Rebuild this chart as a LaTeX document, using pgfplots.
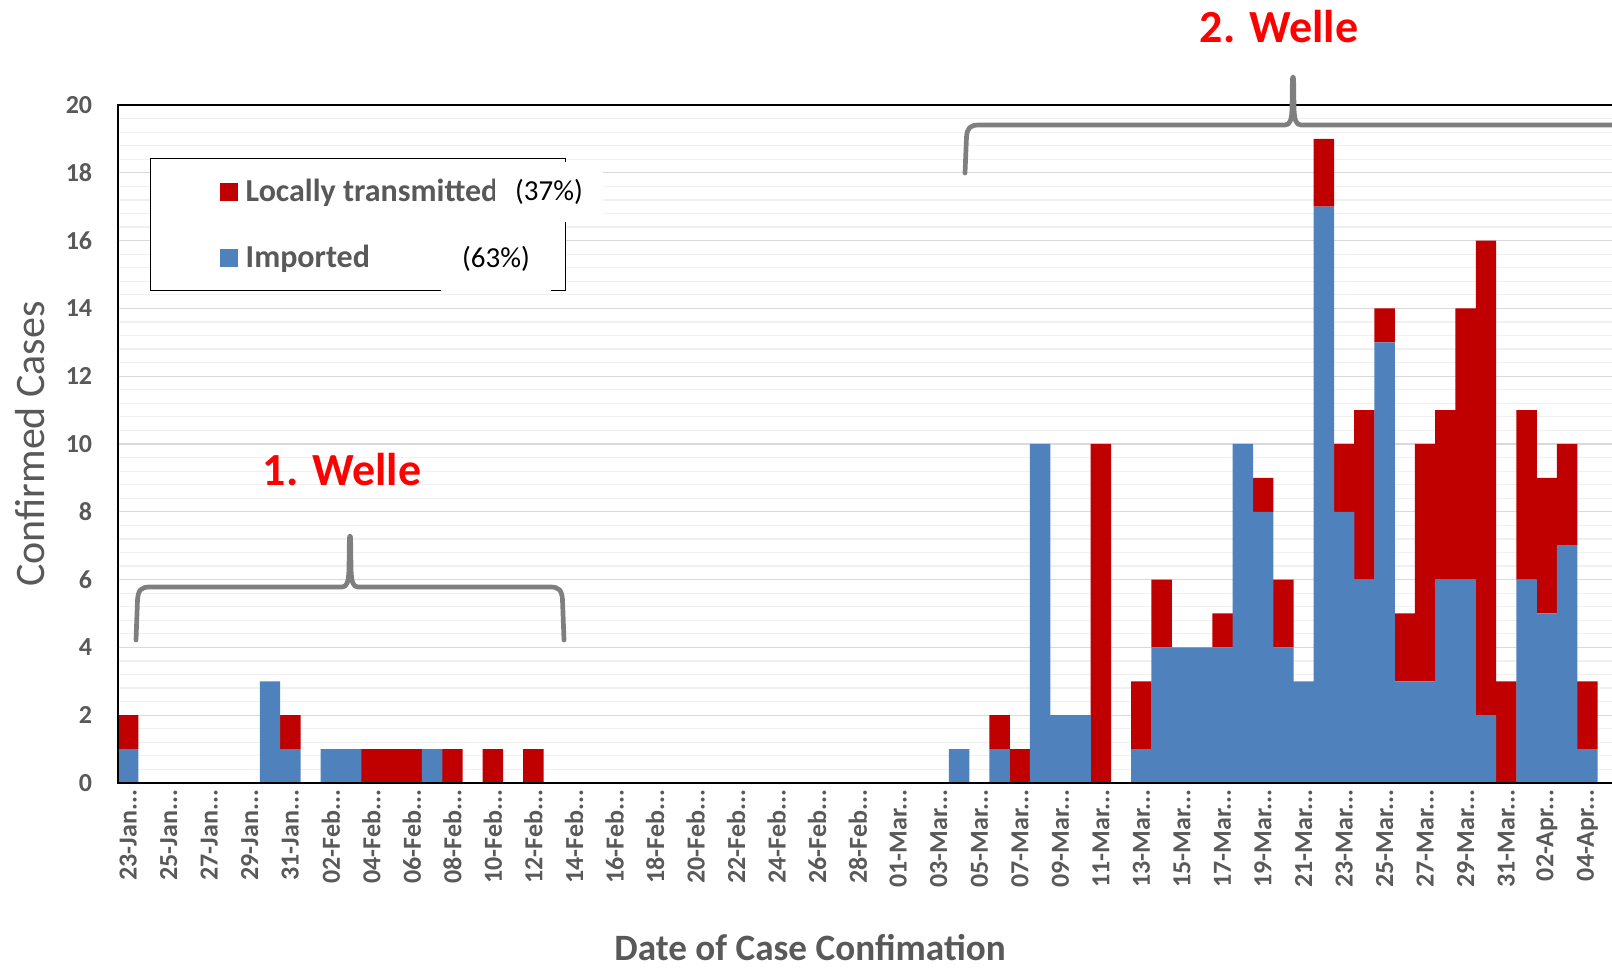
\documentclass[border=0pt]{standalone}
\usepackage{fontspec}
\setmainfont{Carlito}
\usepackage{pgfplots}
\usepackage{pgfplotstable}
\pgfplotsset{compat=1.18}
\definecolor{locred}{HTML}{C00000}
\definecolor{impblue}{HTML}{4F81BD}
\definecolor{txtgray}{HTML}{595959}
\definecolor{gridmaj}{HTML}{D9D9D9}
\definecolor{gridmin}{HTML}{F0F0F0}
\definecolor{bracegray}{HTML}{7F7F7F}
\definecolor{wellered}{HTML}{FF0000}
\newcommand{\dt}{...}
\pgfplotsset{
  /pgfplots/layers/gridbelow/.define layer set={axis background,axis grid,main,axis ticks,axis lines,axis tick labels,axis descriptions,axis foreground}{/pgfplots/layers/standard},
}
\pgfplotstableread{
x imp loc
0 1 1
1 0 0
2 0 0
3 0 0
4 0 0
5 0 0
6 0 0
7 3 0
8 1 1
9 0 0
10 1 0
11 1 0
12 0 1
13 0 1
14 0 1
15 1 0
16 0 1
17 0 0
18 0 1
19 0 0
20 0 1
21 0 0
22 0 0
23 0 0
24 0 0
25 0 0
26 0 0
27 0 0
28 0 0
29 0 0
30 0 0
31 0 0
32 0 0
33 0 0
34 0 0
35 0 0
36 0 0
37 0 0
38 0 0
39 0 0
40 0 0
41 1 0
42 0 0
43 1 1
44 0 1
45 10 0
46 2 0
47 2 0
48 0 10
49 0 0
50 1 2
51 4 2
52 4 0
53 4 0
54 4 1
55 10 0
56 8 1
57 4 2
58 3 0
59 17 2
60 8 2
61 6 5
62 13 1
63 3 2
64 3 7
65 6 5
66 6 8
67 2 14
68 0 3
69 6 5
70 5 4
71 7 3
72 1 2
}\casetable
\begin{document}
\begin{tikzpicture}
\begin{axis}[
  set layers=gridbelow,
  at={(59pt,93pt)}, anchor=south west,
  scale only axis, width=760pt, height=339pt,
  xmin=-0.5, xmax=74.5, ymin=0, ymax=20,
  ybar stacked, bar width=1.01,
  xtick={0,2,...,72},
  xticklabels={23-Jan\dt,25-Jan\dt,27-Jan\dt,29-Jan\dt,31-Jan\dt,02-Feb\dt,04-Feb\dt,06-Feb\dt,08-Feb\dt,10-Feb\dt,12-Feb\dt,14-Feb\dt,16-Feb\dt,18-Feb\dt,20-Feb\dt,22-Feb\dt,24-Feb\dt,26-Feb\dt,28-Feb\dt,01-Mar\dt,03-Mar\dt,05-Mar\dt,07-Mar\dt,09-Mar\dt,11-Mar\dt,13-Mar\dt,15-Mar\dt,17-Mar\dt,19-Mar\dt,21-Mar\dt,23-Mar\dt,25-Mar\dt,27-Mar\dt,29-Mar\dt,31-Mar\dt,02-Apr\dt,04-Apr\dt},
  xticklabel style={rotate=90, anchor=east, font=\bfseries\fontsize{13}{13}\selectfont, text=txtgray},
  ytick={0,2,...,20},
  yticklabel style={font=\bfseries\fontsize{13}{13}\selectfont, text=txtgray, xshift=-9.4pt},
  /pgf/number format/assume math mode=true,
  major tick length=0pt, minor tick length=0pt,
  minor y tick num=4,
  ymajorgrids, yminorgrids,
  major grid style={draw=gridmaj, line width=0.6pt},
  minor grid style={draw=gridmin, line width=0.6pt},
  axis line style={black, line width=0.9pt},
  ylabel={Confirmed Cases},
  ylabel style={at={(axis description cs:-0.0579,0.5)}, anchor=center, rotate=0, font=\fontsize{21}{21}\selectfont, text=txtgray},
  xlabel={Date of Case Confimation},
  xlabel style={at={(axis description cs:0.4553,-0.2434)}, anchor=center, inner sep=0pt, font=\bfseries\fontsize{18.6}{18.6}\selectfont, text=txtgray},
  legend image code/.code={\path[fill=none,draw=none] (-25pt,-12pt) rectangle (9pt,12pt); \fill[#1] (0pt,-4.5pt) rectangle (9pt,4.5pt);},
  legend cell align=left,
  reverse legend,
  legend style={at={(axis description cs:0.02105,0.92183)}, anchor=north west, draw=black, line width=0.7pt,
    inner xsep=9.5pt, inner ysep=4.5pt, row sep=9pt, column sep=4pt,
    font=\bfseries\fontsize{16}{16}\selectfont, text=txtgray,
    nodes={inner sep=0pt, text height=10pt, text depth=0pt}},
]
\addplot[fill=impblue, draw=none] table[x=x, y=imp]{\casetable};
\addlegendentry{\makebox[150.5pt][l]{Imported}}
\addplot[fill=locred, draw=none] table[x=x, y=loc]{\casetable};
\addlegendentry{\makebox[150.5pt][l]{Locally transmitted}}
\end{axis}
\begin{pgfonlayer}{axis foreground}
\node[fill=white, inner sep=0pt, minimum width=54pt, minimum height=30pt, font=\fontsize{14.5}{14.5}\selectfont] at (274.5pt,388.5pt) {(37\%)};
\node[fill=white, inner sep=0pt, minimum width=55pt, minimum height=32pt, font=\fontsize{14.5}{14.5}\selectfont] at (248pt,355pt) {(63\%)};
\begin{scope}[shift={(0pt,484.5pt)}, x=0.5pt, y=-0.5pt]
\draw[bracegray, line width=2.35pt, line cap=round, line join=round]
  (136,640) -- (137.5,600) .. controls (138.2,590) and (141,587) .. (150,587)
  -- (342,587) .. controls (347,587) and (348.7,582) .. (349,568) -- (349.4,539)
  .. controls (349.6,535) and (350.4,535) .. (350.6,539) -- (351,568)
  .. controls (351.3,582) and (353,587) .. (358,587) -- (550,587)
  .. controls (559,587) and (561.8,590) .. (562.5,600) -- (564,640);
\draw[bracegray, line width=2.35pt, line cap=round, line join=round]
  (965,173) -- (966.5,137) .. controls (967.2,128) and (970,125) .. (979,125)
  -- (1285,125) .. controls (1290,125) and (1291.7,120) .. (1292,108) -- (1292.4,80)
  .. controls (1292.6,76) and (1293.4,76) .. (1293.6,80) -- (1294,108)
  .. controls (1294.3,120) and (1296,125) .. (1301,125) -- (1640,125);
\node[anchor=base, text=wellered, font=\bfseries\fontsize{23}{23}\selectfont, inner sep=0pt] at (342,486) {1. Welle};
\node[anchor=base, text=wellered, font=\bfseries\fontsize{23}{23}\selectfont, inner sep=0pt] at (1279,43) {2. Welle};
\end{scope}
\end{pgfonlayer}
\pgfresetboundingbox
\useasboundingbox (0,0) rectangle (806pt,484.5pt);
\end{tikzpicture}
\end{document}
